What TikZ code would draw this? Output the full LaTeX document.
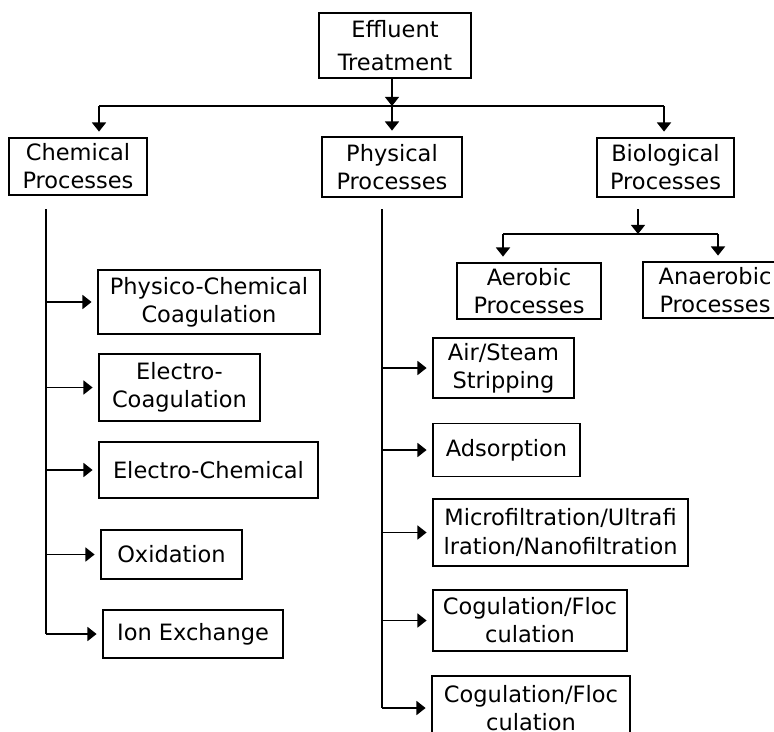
\documentclass[tikz,border=0pt]{standalone}
\usepackage{fontspec}
\setmainfont{DejaVu Sans}
\usepackage{tikz}
\usetikzlibrary{arrows.meta, positioning, calc}
\definecolor{linecolor}{RGB}{0,0,0}

\begin{document}
\begin{tikzpicture}[
    x=0.025cm, y=-0.025cm,
    proc/.style={draw=linecolor, line width=1.1pt, inner sep=0pt, align=center, font=\fontsize{16}{20}\selectfont},
    link/.style={draw=linecolor, line width=1.1pt},
    arr/.style={link, -{Triangle[length=6.5pt, width=10pt]}, shorten >=4pt},
    joinarr/.style={arr, shorten >=0pt}
]
    % Canvas
    \path[use as bounding box, fill=white] (0,0) rectangle (774,731);
    \clip (0,0) rectangle (774,731);

    % Top level
    \node[proc, minimum width=3.8cm, minimum height=1.625cm] (eff) at (395,45.5) {Effluent\\[4pt]Treatment};

    % Three process families
    \node[proc, minimum width=3.45cm, minimum height=1.425cm] (chem) at (78,166.5) {Chemical\\Processes};
    \node[proc, minimum width=3.5cm, minimum height=1.5cm] (phys) at (392,167) {Physical\\Processes};
    \node[proc, minimum width=3.425cm, minimum height=1.475cm] (bio) at (665.5,167.5) {Biological\\Processes};

    % Biological branches
    \node[proc, minimum width=3.6cm, minimum height=1.4cm] (aer) at (529,291) {Aerobic\\Processes};
    \node[proc, minimum width=3.6cm, minimum height=1.4cm] (anaer) at (715,290) {Anaerobic\\Processes};

    % Chemical branches
    \node[proc, minimum width=5.55cm, minimum height=1.6cm] (pcc) at (209,302) {Physico-Chemical\\Coagulation};
    \node[proc, minimum width=4.025cm, minimum height=1.675cm] (ecoag) at (179.5,387.5) {Electro-\\Coagulation};
    \node[proc, minimum width=5.475cm, minimum height=1.4cm] (echem) at (208.5,470) {Electro-Chemical};
    \node[proc, minimum width=3.525cm, minimum height=1.225cm] (oxid) at (171.5,554.5) {Oxidation};
    \node[proc, minimum width=4.5cm, minimum height=1.2cm] (ionx) at (193,634) {Ion Exchange};

    % Physical branches
    \node[proc, minimum width=3.525cm, minimum height=1.5cm] (strip) at (503.5,368) {Air/Steam\\Stripping};
    \node[proc, minimum width=3.675cm, minimum height=1.325cm] (ads) at (506.5,450) {Adsorption};
    \node[proc, minimum width=6.375cm, minimum height=1.675cm] (mfil) at (560.5,532.5) {Microfiltration/Ultrafi\\lration/Nanofiltration};
    \node[proc, minimum width=4.85cm, minimum height=1.525cm] (cog) at (530,620.5) {Cogulation/Floc\\culation};
    \node[proc, minimum width=4.95cm, minimum height=1.6cm] (cogb) at (531,708) {Cogulation/Floc\\culation};

    % Split below the top box
    \coordinate (split) at (392,106);
    \coordinate (chemtop) at (99,106);
    \coordinate (biotop) at (664,106);
    \draw[joinarr] (eff.south -| split) -- (split);
    \draw[link] (chemtop) -- (biotop);
    \draw[arr] (chemtop) -- (chemtop |- chem.north);
    \draw[arr] (split) -- (phys);
    \draw[arr] (biotop) -- (biotop |- bio.north);

    % Chemical trunk
    \coordinate (chemtrunk) at (46,209);
    \draw[link] (chemtrunk) -- (chemtrunk |- ionx.west);
    \foreach \b in {pcc,ecoag,echem,oxid,ionx}
        \draw[arr] (chemtrunk |- \b.west) -- (\b.west);

    % Physical trunk
    \coordinate (phystrunk) at (382,209);
    \draw[link] (phystrunk) -- (phystrunk |- cogb.west);
    \foreach \b in {strip,ads,mfil,cog,cogb}
        \draw[arr] (phystrunk |- \b.west) -- (\b.west);

    % Biological split
    \coordinate (biostem) at (638,209);
    \coordinate (biosplit) at (638,234);
    \coordinate (aertop) at (503,234);
    \coordinate (anaertop) at (718,234);
    \draw[joinarr] (biostem) -- (biosplit);
    \draw[link] (aertop) -- (anaertop);
    \draw[arr] (aertop) -- (aertop |- aer.north);
    \draw[arr] (anaertop) -- (anaertop |- anaer.north);
\end{tikzpicture}
\end{document}
